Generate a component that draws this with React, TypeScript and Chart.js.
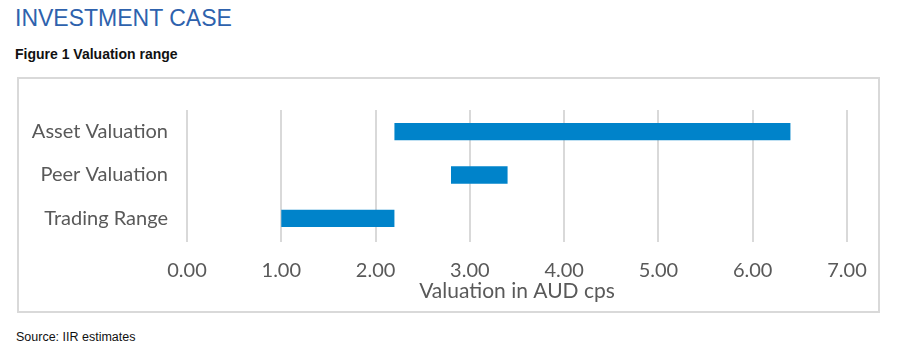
import React, { useEffect, useRef } from "react";
import { Chart, registerables } from "chart.js";

Chart.register(...registerables);

const categories = ["Asset Valuation", "Peer Valuation", "Trading Range"];
const rangeLow = [2.2, 2.8, 1.0];
const rangeHigh = [6.4, 3.4, 2.2];
const axisMin = 0;
const axisMax = 7;
const axisStep = 1;
const axisTitle = "Valuation in AUD cps";
const pageTitle = "INVESTMENT CASE";
const figureTitle = "Figure 1 Valuation range";
const sourceText = "Source: IIR estimates";

const FONT = "Lato, 'Noto Sans', sans-serif";

export default function App() {
  const ref = useRef<HTMLCanvasElement | null>(null);

  useEffect(() => {
    document.body.style.margin = "0";
    const ctx = ref.current;
    if (!ctx) return;
    const chart = new Chart(ctx, {
      type: "bar",
      data: {
        labels: categories,
        datasets: [
          {
            data: categories.map((_, i) => [rangeLow[i], rangeHigh[i]]) as any,
            backgroundColor: "#0083ca",
            borderWidth: 0,
            categoryPercentage: 0.8,
            barPercentage: 0.5,
          },
        ],
      },
      options: {
        indexAxis: "y",
        animation: false,
        responsive: false,
        maintainAspectRatio: false,
        layout: { padding: { top: 26, right: 31, bottom: 0, left: 0 } },
        plugins: { legend: { display: false }, tooltip: { enabled: false } },
        scales: {
          x: {
            min: axisMin,
            max: axisMax,
            border: { display: false },
            grid: { color: "#d9d9d9", lineWidth: 2, tickLength: 2 },
            afterFit: (s: any) => {
              s.height = 71;
              s.paddingRight = 0;
            },
            ticks: {
              stepSize: axisStep,
              color: "#595959",
              font: { family: FONT, size: 20 },
              padding: 17,
              callback: (v: any) => Number(v).toFixed(2),
            },
            title: {
              display: true,
              text: axisTitle,
              color: "#595959",
              font: { family: FONT, size: 21 },
              padding: { top: 0, bottom: 7 },
            },
          },
          y: {
            border: { display: false },
            grid: { display: false, drawTicks: false },
            afterFit: (s: any) => {
              s.width = 168;
            },
            ticks: {
              color: "#595959",
              font: { family: FONT, size: 20 },
              padding: 19,
            },
          },
        },
      },
    });
    return () => chart.destroy();
  }, []);

  return (
    <div style={{ position: "relative", width: 900, height: 351, background: "#fff", overflow: "hidden" }}>
      <div
        style={{
          position: "absolute",
          left: 15,
          top: 5,
          fontFamily: "'Liberation Sans', Arial, sans-serif",
          fontSize: 23,
          color: "#2e62ad",
          whiteSpace: "nowrap",
        }}
      >
        {pageTitle}
      </div>
      <div
        style={{
          position: "absolute",
          left: 15,
          top: 46,
          fontFamily: "'Liberation Sans Narrow', 'Liberation Sans', Arial, sans-serif",
          fontWeight: "bold",
          fontSize: 14,
          color: "#111",
          whiteSpace: "nowrap",
        }}
      >
        {figureTitle}
      </div>
      <div
        style={{
          position: "absolute",
          left: 17,
          top: 77,
          width: 859,
          height: 232,
          border: "2px solid #d9d9d9",
        }}
      >
        <canvas ref={ref} width={859} height={232} style={{ display: "block" }} />
      </div>
      <div
        style={{
          position: "absolute",
          left: 16,
          top: 330,
          fontFamily: "'Liberation Sans Narrow', 'Liberation Sans', Arial, sans-serif",
          fontSize: 12.5,
          color: "#111",
          whiteSpace: "nowrap",
        }}
      >
        {sourceText}
      </div>
    </div>
  );
}
